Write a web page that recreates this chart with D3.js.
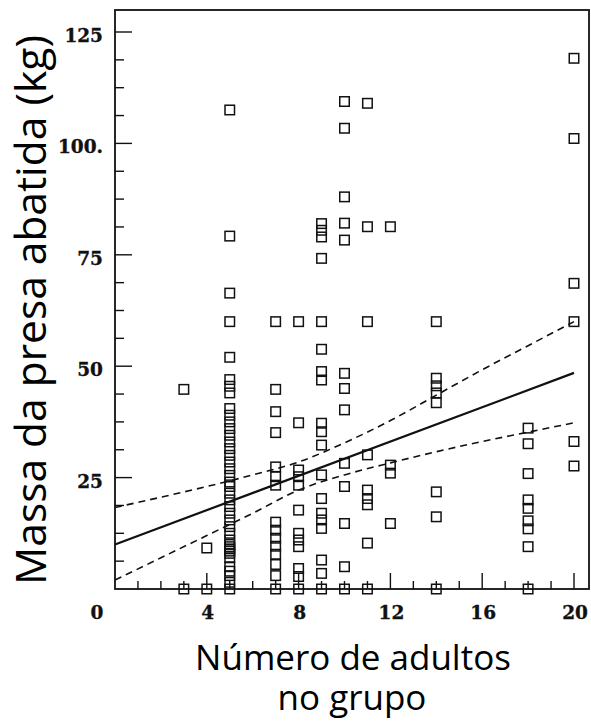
<!DOCTYPE html>
<html><head><meta charset="utf-8">
<script src="https://cdn.jsdelivr.net/npm/d3@7"></script>
<style>body{margin:0;background:#fff}svg{display:block}</style>
</head><body>
<svg id="c" width="591" height="721"></svg>
<script>
// ---- data ----
const mass3  = [44.8, 0];
const mass4  = [9.2, 0];
const mass5  = [107.5, 79.2, 66.4, 60, 52, 47, 45.5, 44, 40.5, 39, 37.5, 36, 34.5, 33, 31.5, 30, 28.5, 27, 25.5, 24, 23, 21.5, 20, 18.5, 17, 15.5, 14, 12.5, 11, 10, 9.5, 9, 8.5, 8, 7, 5, 4, 3, 1.5, 0];
const mass7  = [60, 44.8, 39.8, 35.1, 27.4, 25.2, 23.3, 15, 13.2, 11.4, 9.6, 7.8, 5.5, 3, 0];
const mass8  = [60, 37.3, 26.7, 25.2, 23.3, 17.7, 12.5, 11, 9.5, 4.6, 2.8, 0];
const mass9  = [82, 80.5, 79, 74.2, 60, 53.8, 48.8, 46.9, 37.2, 35.3, 32.3, 25.6, 20.3, 17, 15.5, 13.6, 6.5, 3.5, 0];
const mass10 = [109.4, 103.4, 88, 82.1, 78.3, 48.4, 45, 40.2, 28.2, 23, 14.7, 5, 0];
const mass11 = [109, 81.3, 60, 30.1, 22.2, 20.3, 18.9, 10.3, 0];
const mass12 = [81.3, 27.8, 26, 14.7];
const mass14 = [60, 47.3, 45.6, 44, 41.8, 21.8, 16.2, 0];
const mass18 = [36.1, 32.6, 25.9, 20, 18.1, 15.3, 13.5, 9.5, 0];
const mass20 = [119.1, 101.1, 68.6, 60, 33.1, 27.6];
const adults = [3, 4, 5, 7, 8, 9, 10, 11, 12, 14, 18, 20];
const masses = [mass3, mass4, mass5, mass7, mass8, mass9, mass10, mass11, mass12, mass14, mass18, mass20];

// regression line and confidence band
const fitX   = [0, 20];
const fitY   = [10, 48.5];
const bandX  = [0, 2, 4, 6, 8, 10, 12, 14, 16, 18, 20];
const upperY = [18.3, 20.6, 23.0, 25.6, 28.5, 32.8, 37.8, 43.5, 49.2, 54.6, 60.0];
const lowerY = [2.0, 7.0, 12.0, 17.0, 22.2, 25.6, 28.3, 30.8, 33.1, 35.2, 37.3];

const xTicks = [0, 4, 8, 12, 16, 20];
const xTickLabels = ["0", "4", "8", "12", "16", "20"];
const yTicks = [25, 50, 75, 100, 125];
const yTickLabels = ["25", "50", "75", "100.", "125"];

const yTitle = "Massa da presa abatida (kg)";
const xTitle1 = "Número de adultos";
const xTitle2 = "no grupo";

// ---- layout ----
const svg = d3.select("#c");
const L = 115, R = 589, T = 10, B = 589;
const x = d3.scaleLinear().domain([0, 20]).range([L, 574]);
const y = d3.scaleLinear().domain([0, 125]).range([B, 32]);

// frame
svg.append("rect").attr("x", L).attr("y", T).attr("width", R - L).attr("height", B - T)
  .attr("fill", "none").attr("stroke", "#111").attr("stroke-width", 1.8);

// y ticks (inward)
const yMinor = d3.range(0, 125.01, 6.25).filter(v => v > 0);
svg.append("g").selectAll("line").data(yMinor).join("line")
  .attr("x1", L).attr("x2", d => L + (d % 25 === 0 ? 17 : 9))
  .attr("y1", d => y(d)).attr("y2", d => y(d))
  .attr("stroke", "#111").attr("stroke-width", 1.4);
// x ticks (upward)
const xMinor = d3.range(1, 21);
svg.append("g").selectAll("line").data(xMinor).join("line")
  .attr("x1", d => x(d)).attr("x2", d => x(d))
  .attr("y1", B).attr("y2", d => B - (d % 4 === 0 ? 16 : 8))
  .attr("stroke", "#111").attr("stroke-width", 1.4);

// tick labels
const tickFont = "'DejaVu Serif', serif";
svg.append("g").selectAll("text").data(yTicks).join("text")
  .attr("x", 103).attr("y", d => y(d) + 10)
  .attr("text-anchor", "end").attr("font-family", tickFont).attr("font-weight", "bold")
  .attr("font-size", 18.5).attr("fill", "#111").attr("stroke", "#111").attr("stroke-width", 0.35)
  .text((d, i) => yTickLabels[i]);
svg.append("g").selectAll("text").data(xTicks).join("text")
  .attr("x", (d, i) => d === 0 ? 97 : x(d) + 1).attr("y", 619)
  .attr("text-anchor", "middle").attr("font-family", tickFont).attr("font-weight", "bold")
  .attr("font-size", 18.5).attr("fill", "#111").attr("stroke", "#111").attr("stroke-width", 0.35)
  .text((d, i) => xTickLabels[i]);

// regression + band
const line = d3.line().x(d => x(d[0])).y(d => y(d[1]));
svg.append("path").datum(fitX.map((v, i) => [v, fitY[i]]))
  .attr("d", line).attr("fill", "none").attr("stroke", "#111").attr("stroke-width", 2.2);
const curve = d3.line().x(d => x(d[0])).y(d => y(d[1])).curve(d3.curveMonotoneX);
[upperY, lowerY].forEach(arr => {
  svg.append("path").datum(bandX.map((v, i) => [v, arr[i]]))
    .attr("d", curve).attr("fill", "none").attr("stroke", "#111")
    .attr("stroke-width", 1.6).attr("stroke-dasharray", "7,5");
});

// points
const pts = [];
adults.forEach((a, i) => masses[i].forEach(m => pts.push([a, m])));
const s = 9.5;
svg.append("g").selectAll("rect").data(pts).join("rect")
  .attr("x", d => x(d[0]) - s / 2).attr("y", d => y(d[1]) - s / 2)
  .attr("width", s).attr("height", s)
  .attr("fill", "none").attr("stroke", "#111").attr("stroke-width", 1.5);

// titles
const titleFont = "'Open Sans', sans-serif";
const yt = svg.append("text").attr("font-family", titleFont).attr("font-size", 40).attr("fill", "#000")
  .attr("text-anchor", "middle")
  .attr("transform", "translate(46,310) rotate(-90)").text(yTitle);
const yw = yt.node().getComputedTextLength();
yt.attr("font-size", 40 * 550 / yw);

const x1 = svg.append("text").attr("font-family", titleFont).attr("font-size", 40).attr("fill", "#000")
  .attr("text-anchor", "middle").attr("x", 353).attr("y", 670).text(xTitle1);
const xw = x1.node().getComputedTextLength();
const fs = 40 * 316 / xw;
x1.attr("font-size", fs);
svg.append("text").attr("font-family", titleFont).attr("font-size", fs).attr("fill", "#000")
  .attr("text-anchor", "middle").attr("x", 352).attr("y", 710).text(xTitle2);
</script>
</body></html>
